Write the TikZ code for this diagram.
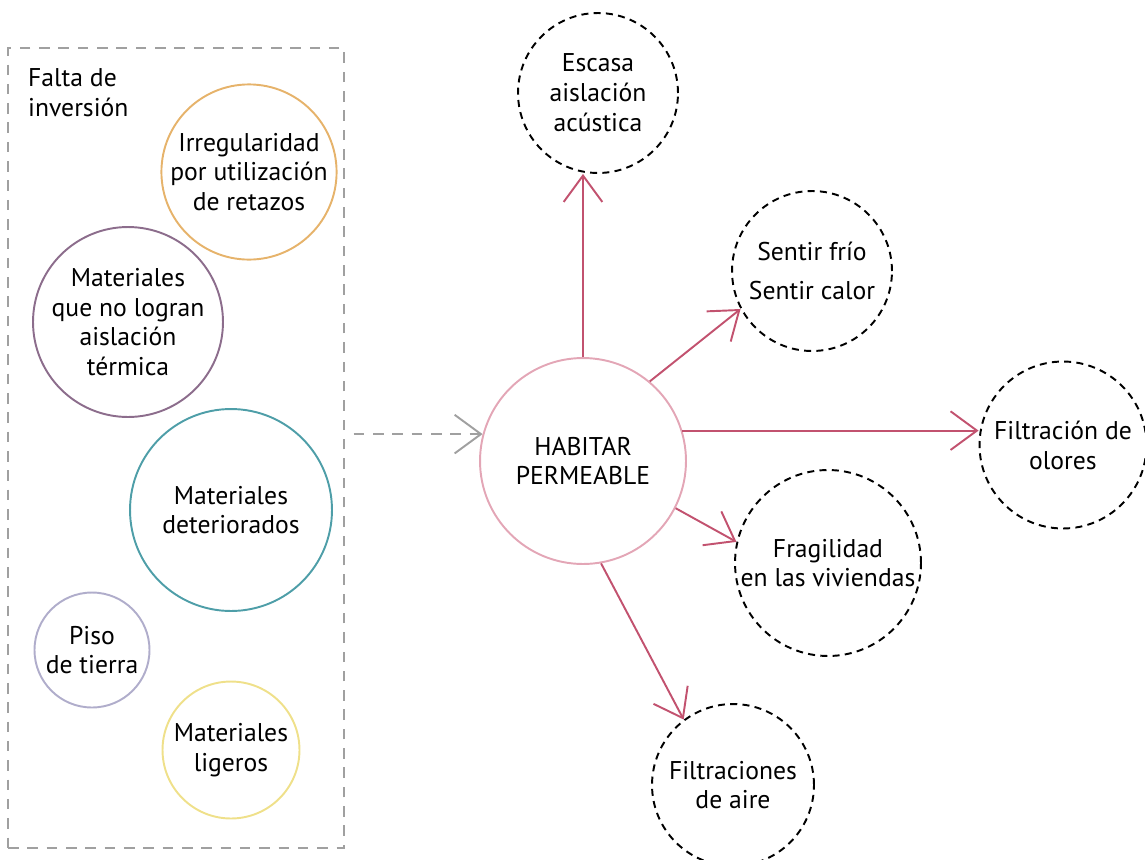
\documentclass[tikz,border=0pt]{standalone}
\usepackage{fontspec}
\setmainfont{PT Sans}
\usetikzlibrary{arrows.meta,positioning}

\definecolor{orangecirc}{HTML}{E6B36B}
\definecolor{purplecirc}{HTML}{8C6D8C}
\definecolor{tealcirc}{HTML}{4E9EA8}
\definecolor{lilaccirc}{HTML}{B0ADCB}
\definecolor{yellowcirc}{HTML}{EFE08A}
\definecolor{pinkcirc}{HTML}{E3A6B6}
\definecolor{arrowred}{HTML}{C2526F}
\definecolor{boxgray}{HTML}{A0A0A0}

\begin{document}
\begin{tikzpicture}
[x=0.02cm, y=-0.02cm, font=\fontsize{14.6}{17}\selectfont,
% STYLES
% The cause style is used for the coloured circles inside the box
cause/.style={circle, draw, line width=1.1pt, align=center, inner sep=0pt},
% The effect style is used for the dashed circles on the right
effect/.style={circle, draw=black, dashed, dash pattern=on 4pt off 3pt, line width=1.1pt, align=center, inner sep=0pt},
% The link style is used to draw the arrows out of the centre
barb/.style={-{Straight Barb[length=15pt,width=22pt,line width=1.1pt]}},
link/.style={draw=arrowred, line width=1.1pt, barb}]

\useasboundingbox (0,0) rectangle (1145,859);

% Box of causes
\node [draw=boxgray, dashed, dash pattern=on 6pt off 5pt, line width=1.1pt, minimum width=6.72cm, minimum height=16cm, inner sep=0pt] (box) at (176,448) {};
\node [anchor=north west, align=left] (falta) at (22,62) {Falta de\\inversión};

\node [cause, draw=orangecirc, minimum size=3.4cm] (irreg) at (249,172) {Irregularidad\\por utilización\\de retazos};
\node [cause, draw=purplecirc, minimum size=3.8cm] (aisl) at (128,322) {Materiales\\que no logran\\aislación\\térmica};
\node [cause, draw=tealcirc, minimum size=4.04cm] (deter) at (231,510) {Materiales\\deteriorados};
\node [cause, draw=lilaccirc, minimum size=2.3cm] (piso) at (92,650) {Piso\\de tierra};
\node [cause, draw=yellowcirc, minimum size=2.74cm] (liger) at (231,750) {Materiales\\ligeros};

% Centre
\node [cause, draw=pinkcirc, minimum size=4.12cm] (hab) at (583,461) {HABITAR\\PERMEABLE};

% Effects
\node [effect, minimum size=3.2cm] (escasa) at (598,93) {Escasa\\aislación\\acústica};
\node [effect, minimum size=3.2cm, font=\fontsize{14.6}{22}\selectfont] (sentir) at (812,271) {Sentir frío\\Sentir calor};
\node [effect, minimum size=3.34cm] (olores) at (1063,445) {Filtración de\\olores};
\node [effect, minimum size=3.72cm] (fragil) at (828,563) {Fragilidad\\en las viviendas};
\node [effect, minimum size=3.24cm] (aire) at (733,785) {Filtraciones\\de aire};

% Links
\draw [boxgray, dashed, dash pattern=on 6pt off 5pt, line width=1.1pt, barb]
  ([xshift=5pt]box.east |- hab.165) -- (hab.165);

\path [link] (hab.north) -- (hab.north |- escasa.south);
\path [link] (hab.50) -- (sentir.208);
\path [link] (hab.17) -- (hab.17 -| olores.west);
\path [link] (hab.-27) -- (fragil.167);
\path [link] (hab.-80) -- (aire.127);

\end{tikzpicture}
\end{document}
